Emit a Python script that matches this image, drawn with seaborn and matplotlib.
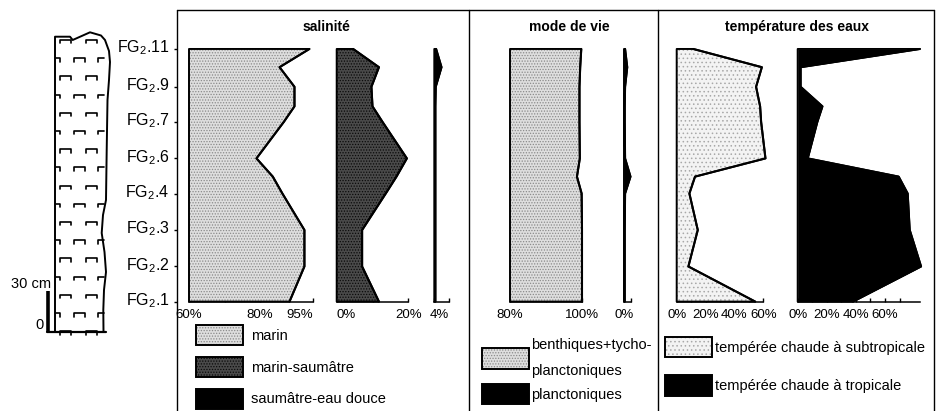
import matplotlib
matplotlib.use("Agg")
import matplotlib.pyplot as plt
from matplotlib.patches import Patch
from matplotlib.transforms import ScaledTranslation
import numpy as np
import pandas as pd
import seaborn as sns

# ------------------------------------------------------------------ data
samples = ["FG2.1", "FG2.2", "FG2.3", "FG2.4", "FG2.5", "FG2.6",
           "FG2.7", "FG2.8", "FG2.9", "FG2.10", "FG2.11"]
height_cm = [22.5, 48.5, 75.5, 102.5, 115.0, 128.5, 155.5, 167.0, 181.5, 196.0, 209.5]
labelled_samples = ["FG2.1", "FG2.2", "FG2.3", "FG2.4", "FG2.6", "FG2.7", "FG2.9", "FG2.11"]

marin = [88.3, 92.5, 92.5, 86.3, 83.6, 79.0, 86.7, 89.7, 89.7, 85.5, 93.9]
marin_saumatre = [11.8, 7.1, 7.1, 13.7, 16.7, 19.6, 12.8, 10.0, 9.7, 11.8, 4.6]
saumatre_eau_douce = [0.3, 0.3, 0.3, 0.3, 0.3, 0.3, 0.3, 0.3, 0.4, 2.0, 0.5]
benthiques = [100.0, 100.0, 100.0, 99.9, 98.6, 99.4, 99.3, 99.3, 99.3, 99.5, 99.8]
planctoniques = [0.2, 0.2, 0.2, 0.3, 1.8, 0.3, 0.2, 0.2, 0.3, 0.9, 0.3]
subtropicale = [54.4, 8.1, 14.6, 8.8, 12.7, 61.5, 58.5, 57.8, 55.0, 59.0, 11.5]
tropicale = [38.0, 84.8, 77.0, 75.6, 69.4, 6.9, 13.5, 17.0, 2.0, 2.0, 84.0]

panel_titles = ["salinité", "mode de vie", "température des eaux"]
legend_salinite = ["marin", "marin-saumâtre", "saumâtre-eau douce"]
legend_vie = ["benthiques+tycho-\nplanctoniques", "planctoniques"]
legend_temp = ["tempérée chaude à subtropicale", "tempérée chaude à tropicale"]

marin_ticks, marin_ticklabels = [60, 70, 80, 95], ["60%", "", "80%", "95%"]
ms_ticks, ms_ticklabels = [0, 10, 20], ["0%", "", "20%"]
sd_ticks, sd_ticklabels = [0, 4], ["", "4%"]
benth_ticks, benth_ticklabels = [80, 90, 100], ["80%", "", "100%"]
planc_ticks, planc_ticklabels = [0, 2], ["0%", ""]
sub_ticks = [0, 10, 20, 30, 40, 50, 60]
sub_ticklabels = ["0%", "", "20%", "", "40%", "", "60%"]
trop_ticks = [0, 10, 20, 30, 40, 50, 60, 70]
trop_ticklabels = ["0%", "", "20%", "", "40%", "", "60%", ""]

df = pd.DataFrame({
    "sample": samples, "height": height_cm,
    "marin": marin, "marin_saumatre": marin_saumatre,
    "saumatre_eau_douce": saumatre_eau_douce,
    "benthiques": benthiques, "planctoniques": planctoniques,
    "subtropicale": subtropicale, "tropicale": tropicale,
})

# ------------------------------------------------------------------ style
sns.set_theme(style="white")
plt.rcParams["font.family"] = ["Liberation Sans", "DejaVu Sans"]
plt.rcParams["mathtext.fontset"] = "custom"
plt.rcParams["mathtext.rm"] = "Liberation Sans"
plt.rcParams["hatch.linewidth"] = 0.6
plt.rcParams["axes.edgecolor"] = "black"
plt.rcParams["xtick.color"] = "black"
plt.rcParams["ytick.color"] = "black"
plt.rcParams["text.color"] = "black"

W, H = 938, 411
fig = plt.figure(figsize=(W / 100, H / 100), dpi=100)
fig.patch.set_facecolor("white")

PX_PER_CM = 1.351
BASE_PX = 332.0


def ypx(h):
    return BASE_PX - h * PX_PER_CM


def cm(y):
    return (BASE_PX - y) / PX_PER_CM


def px_axes(x0, x1, y0, y1, **kw):
    return fig.add_axes([x0 / W, 1 - y1 / H, (x1 - x0) / W, (y1 - y0) / H], **kw)


hmin, hmax = min(height_cm), max(height_cm)
prof_top, prof_bot = ypx(hmax), ypx(hmin)

LIGHT = dict(face="#dedede", hc="#8a8a8a", hatch="......")
DARK = dict(face="#4a4a4a", hc="#0a0a0a", hatch="......")
BLACK = dict(face="black", hc="black", hatch=None)
PALE = dict(face="#f3f3f3", hc="#a8a8a8", hatch="....")

# overlay for frames and titles
ov = fig.add_axes([0, 0, 1, 1], zorder=-5)
ov.set_xlim(0, W)
ov.set_ylim(H, 0)
ov.axis("off")
ov.plot([177, 934], [10, 10], color="black", lw=1.0)
for xv in (177, 469, 658, 934):
    ov.plot([xv, xv], [10, H], color="black", lw=1.0)
ov.text(326, 27, panel_titles[0], ha="center", va="center", fontsize=10, fontweight="bold")
ov.text(569, 27, panel_titles[1], ha="center", va="center", fontsize=10, fontweight="bold")
ov.text(797, 27, panel_titles[2], ha="center", va="center", fontsize=10, fontweight="bold")

# ------------------------------------------------------------------ profiles
panels = [
    ("marin", 189.0, 313.3, (60, 95), marin_ticks, marin_ticklabels, LIGHT),
    ("marin_saumatre", 336.7, 408.3, (0, 20), ms_ticks, ms_ticklabels, DARK),
    ("saumatre_eau_douce", 434.3, 448.7, (0, 4), sd_ticks, sd_ticklabels, BLACK),
    ("benthiques", 510.0, 582.0, (80, 100), benth_ticks, benth_ticklabels, LIGHT),
    ("planctoniques", 624.0, 631.2, (0, 2), planc_ticks, planc_ticklabels, BLACK),
    ("subtropicale", 676.7, 763.3, (0, 60), sub_ticks, sub_ticklabels, PALE),
    ("tropicale", 797.7, 919.9, (0, 84), trop_ticks, trop_ticklabels, BLACK),
]
axes = {}
for key, x0, x1, xlim, ticks, tlabels, st in panels:
    ax = px_axes(x0, x1, prof_top, prof_bot)
    ax.patch.set_alpha(0)
    base = xlim[0]
    ax.fill_betweenx(df["height"], base, df[key], facecolor=st["face"],
                     edgecolor=st["hc"], hatch=st["hatch"], linewidth=0,
                     clip_on=False, zorder=1)
    ax.fill_betweenx(df["height"], base, df[key], facecolor="none",
                     edgecolor="black", linewidth=1.4, clip_on=False, zorder=2)
    sns.lineplot(data=df, x=key, y="height", orient="y", ax=ax,
                 color="black", linewidth=1.5, zorder=3)
    for ln in ax.lines:
        ln.set_clip_on(False)
    ax.set_xlim(*xlim)
    ax.set_ylim(hmin, hmax)
    ax.set_xlabel("")
    ax.set_ylabel("")
    ax.set_yticks([])
    ax.set_xticks(ticks)
    ax.set_xticklabels(tlabels)
    for s in ("left", "right", "top"):
        ax.spines[s].set_visible(False)
    ax.spines["bottom"].set_linewidth(1.1)
    ax.tick_params(axis="x", direction="in", length=3, width=1.0,
                   labelsize=9.5, pad=5.5, bottom=True)
    axes[key] = ax

# tick-label alignment as in the original
axes["marin"].get_xticklabels()[3].set_ha("right")
axes["marin_saumatre"].get_xticklabels()[0].set_ha("left")
axes["saumatre_eau_douce"].get_xticklabels()[1].set_ha("right")

# sample labels
lab_ax = px_axes(177, 178, prof_top, prof_bot)
lab_ax.patch.set_alpha(0)
lab_ax.set_ylim(hmin, hmax)
lab_ax.set_xticks([])
lab_pos = [height_cm[samples.index(s)] for s in labelled_samples]
lab_txt = [r"FG$_{\mathregular{2}}$" + s[3:] for s in labelled_samples]
lab_ax.set_yticks(lab_pos)
lab_ax.set_yticklabels(lab_txt)
for s in lab_ax.spines.values():
    s.set_visible(False)
lab_ax.tick_params(axis="y", direction="out", length=2.5, width=1.0,
                   labelsize=11.5, pad=3, left=True)
for t in lab_ax.get_yticklabels():
    t.set_transform(t.get_transform() + ScaledTranslation(0, 2.5 / 72, fig.dpi_scale_trans))

# ------------------------------------------------------------------ legends


def handle(st):
    return (Patch(facecolor=st["face"], edgecolor=st["hc"], hatch=st["hatch"], linewidth=0),
            Patch(facecolor="none", edgecolor="black", linewidth=1.4))


common = dict(frameon=False, fontsize=10.5, handlelength=3.2, handleheight=1.75,
              borderpad=0, borderaxespad=0, loc="upper left",
              bbox_transform=fig.transFigure)
axes["marin"].legend([handle(LIGHT), handle(DARK), handle(BLACK)], legend_salinite,
                     bbox_to_anchor=(196 / W, 1 - 325 / H), labelspacing=0.8,
                     handletextpad=0.6, **common)
leg_vie = axes["benthiques"].legend([handle(LIGHT), handle(BLACK)], legend_vie,
                                    bbox_to_anchor=(482 / W, 1 - 338 / H), labelspacing=0.45,
                                    handletextpad=0.15, **common)
for t in leg_vie.get_texts():
    t.set_linespacing(2.05)
axes["subtropicale"].legend([handle(PALE), handle(BLACK)], legend_temp,
                            bbox_to_anchor=(665 / W, 1 - 337 / H), labelspacing=1.25,
                            handletextpad=0.2, **common)

# ------------------------------------------------------------------ lithological column
col = px_axes(30, 130, 20, 340)
col.set_xlim(30, 130)
col.set_ylim(cm(340), cm(20))
col.axis("off")
outline_x = [55, 55, 70, 72.7, 81.7, 90, 101, 105, 109, 110, 109, 107.5, 106.7, 106,
             103, 101.7, 104.5, 106, 104, 103.3, 103.5]
outline_y = [332, 36.7, 36.7, 40, 36, 32.3, 35.5, 40, 51, 62, 80, 100, 150, 200,
             215, 233, 252, 272, 290, 310, 332]
col.plot(outline_x, [cm(v) for v in outline_y], color="black", lw=1.4,
         solid_joinstyle="round")
col.plot([47, 106], [0, 0], color="black", lw=1.6)
col.plot([48, 48], [0, 30], color="black", lw=2.6, solid_capstyle="butt")
col.text(51, 30.5, "30 cm", ha="right", va="bottom", fontsize=10.5)
col.text(44, 0, "0", ha="right", va="bottom", fontsize=10.5)


def bracket(xl, xr, y, left=True, right=True):
    xs, ys = [], []
    if left:
        xs.append(xl)
        ys.append(y + 3.5)
    xs += [xl, xr]
    ys += [y, y]
    if right:
        xs.append(xr)
        ys.append(y + 3.5)
    col.plot(xs, [cm(v) for v in ys], color="black", lw=1.2)


for k in range(17):
    y = 40 + 18.2 * k
    if k % 2 == 0:
        bracket(60, 70.5, y)
        bracket(85.5, 97, y)
    else:
        bracket(55.5, 60, y, left=False)
        bracket(73.5, 85, y)
        bracket(98.3, 104, y, right=False)

fig.savefig("out.png", dpi=100, facecolor="white")
